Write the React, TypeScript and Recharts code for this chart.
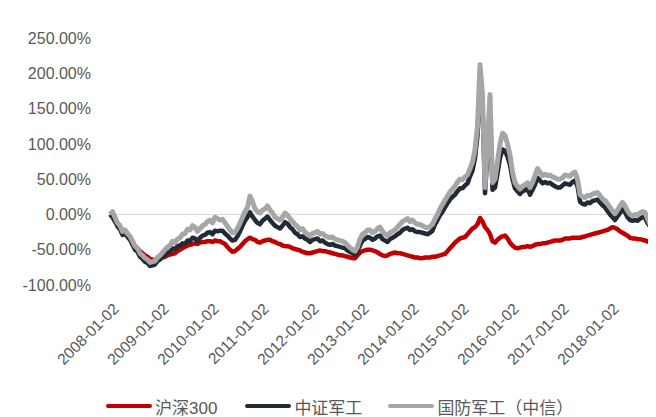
import { LineChart, Line, XAxis, YAxis, ReferenceLine } from 'recharts';

// one point every 0.05 year, starting 2008-01-02
const START_YEAR = 2008;
const STEP = 0.05;

const yearTicks = [2008, 2009, 2010, 2011, 2012, 2013, 2014, 2015, 2016, 2017, 2018];
const tickLabels = [
  '2008-01-02', '2009-01-02', '2010-01-02', '2011-01-02', '2012-01-02', '2013-01-02',
  '2014-01-02', '2015-01-02', '2016-01-02', '2017-01-02', '2018-01-02',
];
const yTicks = [-100, -50, 0, 50, 100, 150, 200, 250];

// cumulative return, %  (one row per year)
const hs300 = [
  0, -4, -10, -14, -18, -24, -27, -29, -32, -38, -45, -48, -52, -55, -58, -60, -63, -64, -65, -64,
  -62, -61, -60, -58, -57, -56, -55, -52, -50, -48, -46, -44, -43, -42, -41, -42, -40, -39, -39, -38,
  -38, -39, -37, -38, -38, -40, -42, -46, -50, -53, -52, -49, -46, -42, -38, -35, -33, -35, -36, -39,
  -40, -38, -37, -36, -36, -38, -39, -41, -42, -44, -45, -45, -46, -48, -49, -50, -51, -53, -54, -55,
  -55, -54, -53, -52, -51, -52, -52, -53, -54, -55, -56, -57, -58, -58, -59, -60, -61, -62, -62, -58,
  -54, -52, -51, -50, -50, -51, -52, -54, -56, -58, -59, -58, -56, -55, -54, -55, -55, -56, -57, -58,
  -59, -60, -61, -61, -62, -62, -61, -61, -61, -60, -60, -59, -58, -57, -56, -52, -48, -44, -40, -37,
  -34, -33, -32, -28, -24, -20, -18, -14, -5, -10, -18, -22, -28, -38, -40, -36, -33, -31, -30, -34,
  -40, -44, -47, -48, -47, -46, -46, -45, -46, -45, -43, -42, -42, -41, -41, -40, -39, -38, -37, -37,
  -37, -36, -34, -34, -34, -33, -33, -33, -33, -32, -31, -30, -29, -28, -27, -26, -25, -24, -23, -22,
  -20, -18, -19, -21, -24, -26, -28, -30, -33, -34, -34, -35, -35, -36, -37, -38, -41, -42, -43,
];
const zzjg = [
  0, -2, -9, -17, -21, -29, -27, -32, -36, -43, -50, -53, -60, -63, -67, -69, -73, -72, -71, -66,
  -64, -60, -58, -54, -53, -48, -49, -45, -44, -41, -42, -37, -38, -33, -34, -38, -33, -30, -29, -26,
  -25, -28, -23, -24, -23, -23, -27, -30, -34, -37, -36, -31, -24, -16, -9, -4, 3, -3, -8, -12,
  -14, -9, -6, -3, -8, -12, -16, -18, -20, -16, -11, -13, -18, -21, -26, -28, -32, -31, -34, -36,
  -39, -36, -35, -34, -38, -37, -40, -42, -43, -42, -44, -45, -46, -47, -48, -51, -53, -55, -57, -52,
  -44, -37, -35, -32, -33, -36, -34, -31, -30, -35, -37, -39, -35, -33, -31, -28, -26, -22, -20, -19,
  -22, -21, -24, -25, -25, -26, -27, -28, -26, -23, -14, -8, -1, 4, 10, 16, 21, 25, 28, 33,
  37, 37, 41, 44, 54, 62, 80, 112, 185, 155, 30, 88, 148, 35, 38, 58, 80, 92, 90, 82,
  70, 50, 37, 33, 29, 33, 34, 37, 28, 35, 42, 52, 48, 44, 46, 44, 45, 42, 40, 38,
  38, 41, 44, 43, 42, 46, 48, 40, 18, 15, 14, 17, 16, 19, 20, 21, 17, 13, 10, 5,
  0, -4, -8, -3, 2, 7, 3, -4, -8, -9, -8, -9, -6, -4, -5, -12, -17, -16, -16,
];
const gfjg = [
  0, 4, -4, -12, -16, -24, -22, -27, -31, -38, -45, -48, -55, -58, -62, -64, -68, -67, -66, -61,
  -58, -54, -50, -46, -44, -38, -40, -35, -33, -28, -27, -21, -22, -16, -18, -24, -20, -16, -14, -10,
  -8, -12, -4, -6, -8, -7, -12, -17, -22, -26, -25, -20, -12, -4, 4, 10, 26, 18, 8, 4,
  2, 6, 8, 12, 6, 2, -4, -6, -8, -4, 2, -1, -6, -10, -14, -17, -22, -20, -25, -28,
  -30, -27, -26, -24, -28, -27, -30, -32, -33, -32, -35, -36, -37, -38, -40, -44, -47, -50, -52, -46,
  -35, -28, -26, -22, -22, -26, -24, -20, -18, -24, -28, -30, -26, -24, -22, -18, -14, -10, -8, -6,
  -10, -8, -12, -14, -14, -16, -18, -19, -17, -14, -6, 0, 8, 14, 20, 26, 32, 36, 40, 46,
  50, 49, 53, 56, 65, 74, 92, 125, 212, 170, 38, 100, 170, 45, 50, 75, 100, 115, 112, 100,
  84, 60, 45, 40, 36, 40, 42, 45, 38, 45, 55, 65, 60, 55, 57, 55, 56, 53, 52, 50,
  50, 52, 56, 55, 54, 58, 60, 50, 28, 25, 24, 27, 26, 29, 30, 31, 27, 22, 20, 15,
  10, 5, 1, 6, 12, 17, 12, 5, 0, -2, 0, -1, 2, 4, 3, -6, -14, -12, -10,
];

const series = [
  { key: 'hs300', name: '沪深300', color: '#C00000', width: 4.5 },
  { key: 'zzjg', name: '中证军工', color: '#222A35', width: 4.5 },
  { key: 'gfjg', name: '国防军工（中信）', color: '#A6A6A6', width: 5 },
];

const data = hs300.map((v, i) => ({
  t: Number((START_YEAR + i * STEP).toFixed(2)),
  hs300: v,
  zzjg: zzjg[i],
  gfjg: gfjg[i],
}));

const FONT = "'Liberation Sans', 'Noto Sans CJK SC', sans-serif";
const TEXT = '#595959';

const DateTick = ({ x, y, payload }: any) => {
  const label = tickLabels[yearTicks.indexOf(payload.value)];
  const ax = x + 2;
  const ay = y + 17;
  return (
    <text
      x={ax}
      y={ay}
      dy="0.71em"
      textAnchor="end"
      transform={`rotate(-45, ${ax}, ${ay})`}
      fill={TEXT}
      fontSize={15.5}
      fontFamily={FONT}
    >
      {label}
    </text>
  );
};

const ChartLegend = () => (
  <div
    style={{
      position: 'absolute',
      left: 98,
      top: 387,
      height: 22,
      display: 'flex',
      alignItems: 'center',
      fontFamily: FONT,
      fontSize: 17,
      color: TEXT,
      whiteSpace: 'nowrap',
    }}
  >
    {series.map((s, i) => (
      <div key={s.key} style={{ display: 'flex', alignItems: 'center', marginRight: i === 0 ? 28 : 26 }}>
        <span style={{ width: 46, height: 4, background: s.color, borderRadius: 2, marginRight: 3 }} />
        <span>{s.name}</span>
      </div>
    ))}
  </div>
);

export default function App() {
  return (
    <div style={{ position: 'relative', width: 648, height: 409 }}>
      <LineChart width={648} height={409} data={data} margin={{ top: 30, right: 1, bottom: 0, left: 0 }}>
        <XAxis
          dataKey="t"
          type="number"
          domain={[2008, 2018.9]}
          ticks={yearTicks}
          tick={<DateTick />}
          tickLine={false}
          axisLine={false}
          tickSize={0}
          tickMargin={0}
          height={132}
          interval={0}
        />
        <YAxis
          type="number"
          domain={[-100, 250]}
          ticks={yTicks}
          tickFormatter={(v: number) => `${v.toFixed(2)}%`}
          tick={{ fill: TEXT, fontSize: 16, fontFamily: FONT }}
          tickLine={false}
          axisLine={false}
          tickSize={0}
          tickMargin={19}
          width={102}
          interval={0}
        />
        <ReferenceLine y={0} stroke="#D9D9D9" strokeWidth={1} />
        {series.map((s) => (
          <Line
            key={s.key}
            dataKey={s.key}
            name={s.name}
            stroke={s.color}
            strokeWidth={s.width}
            strokeLinejoin="round"
            dot={false}
            activeDot={false}
            isAnimationActive={false}
          />
        ))}
      </LineChart>
      <ChartLegend />
    </div>
  );
}
